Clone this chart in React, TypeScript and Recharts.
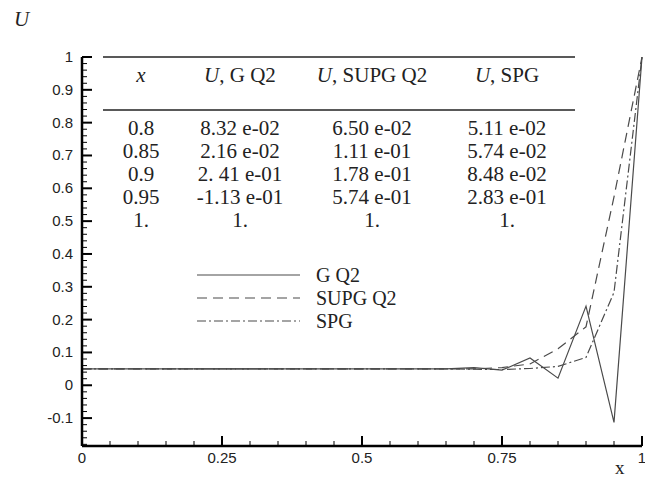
import { LineChart, Line, XAxis, YAxis } from "recharts";

const X_VALUES = [0, 0.05, 0.1, 0.15, 0.2, 0.25, 0.3, 0.35, 0.4, 0.45, 0.5, 0.55, 0.6, 0.65, 0.7, 0.75, 0.8, 0.85, 0.9, 0.95, 1];
const G_Q2 = [0.05, 0.05, 0.05, 0.05, 0.05, 0.05, 0.05, 0.05, 0.05, 0.05, 0.05, 0.05, 0.05, 0.05, 0.054, 0.046, 0.0832, 0.0216, 0.241, -0.113, 1];
const SUPG_Q2 = [0.05, 0.05, 0.05, 0.05, 0.05, 0.05, 0.05, 0.05, 0.05, 0.05, 0.05, 0.05, 0.05, 0.05, 0.05, 0.054, 0.065, 0.111, 0.178, 0.574, 1];
const SPG = [0.05, 0.05, 0.05, 0.05, 0.05, 0.05, 0.05, 0.05, 0.05, 0.05, 0.05, 0.05, 0.05, 0.05, 0.049, 0.048, 0.0511, 0.0574, 0.0848, 0.283, 1];

const X_MAJOR = [0, 0.25, 0.5, 0.75, 1];
const Y_MAJOR = [-0.1, 0, 0.1, 0.2, 0.3, 0.4, 0.5, 0.6, 0.7, 0.8, 0.9, 1];

const TABLE_HEAD = ["x", "G Q2", "SUPG Q2", "SPG"];
const TABLE_X = ["0.8", "0.85", "0.9", "0.95", "1."];
const TABLE_G = ["8.32 e-02", "2.16 e-02", "2. 41 e-01", "-1.13 e-01", "1."];
const TABLE_SUPG = ["6.50 e-02", "1.11 e-01", "1.78 e-01", "5.74 e-01", "1."];
const TABLE_SPG = ["5.11 e-02", "5.74 e-02", "8.48 e-02", "2.83 e-01", "1."];

const SERIES = [
  { key: "g", name: "G Q2", dash: undefined },
  { key: "supg", name: "SUPG Q2", dash: "10 6" },
  { key: "spg", name: "SPG", dash: "9 3 2 3" },
];

const data = X_VALUES.map((x, i) => ({ x, g: G_Q2[i], supg: SUPG_Q2[i], spg: SPG[i] }));

// minor ticks between the labelled ones
function subdivide(majors: number[], parts: number, lo: number) {
  const step = (majors[1] - majors[0]) / parts;
  const out: number[] = [];
  for (let v = majors[0] - step * Math.floor((majors[0] - lo) / step); v <= majors[majors.length - 1] + 1e-9; v += step) {
    out.push(Math.round(v * 1000) / 1000);
  }
  return out;
}

const W = 645;
const H = 481;
const LEFT = 82;
const TOP = 57;
const RIGHT = 642;
const BOTTOM = 446;
const Y_MIN = -0.185;

const X_TICKS = subdivide(X_MAJOR, 5, 0);
const Y_TICKS = subdivide(Y_MAJOR, 5, Y_MIN);

const isOn = (v: number, step: number) => Math.abs(Math.round(v / step) * step - v) < 1e-6;
const fmt = (v: number) => String(Math.round(v * 100) / 100);

const SANS = "'Liberation Sans', Arial, sans-serif";
const SERIF = "'Liberation Serif', 'Times New Roman', serif";
const INK = "#222";
const LINE = "#4a4a4a";

function YTick(props: any) {
  const { y, payload } = props;
  const major = isOn(payload.value, 0.1);
  return (
    <g>
      <line x1={LEFT} x2={LEFT + (major ? 10 : 5)} y1={y} y2={y} stroke="#000" strokeWidth={major ? 2 : 1} />
      {major && (
        <text x={LEFT - 9} y={y} dy={5} textAnchor="end" fontFamily={SANS} fontSize={15} fill={INK}>
          {fmt(payload.value)}
        </text>
      )}
    </g>
  );
}

function XTick(props: any) {
  const { x, payload } = props;
  const major = isOn(payload.value, 0.25);
  return (
    <g>
      <line x1={x} x2={x} y1={BOTTOM} y2={BOTTOM - (major ? 10 : 5)} stroke="#000" strokeWidth={major ? 2 : 1} />
      {major && (
        <text x={x} y={BOTTOM + 17} textAnchor="middle" fontFamily={SANS} fontSize={15} fill={INK}>
          {fmt(payload.value)}
        </text>
      )}
    </g>
  );
}

const COLS = [141, 240, 372, 507];

export default function App() {
  return (
    <div style={{ position: "absolute", left: 0, top: 0, width: W, height: H, background: "#fff" }}>
      <LineChart width={W} height={H} data={data} margin={{ top: TOP, right: W - RIGHT, left: 0, bottom: 0 }}>
        <XAxis
          dataKey="x"
          type="number"
          domain={[0, 1]}
          ticks={X_TICKS}
          interval={0}
          height={H - BOTTOM}
          tickLine={false}
          axisLine={{ stroke: "#000", strokeWidth: 2.5 }}
          tick={<XTick />}
        />
        <YAxis
          type="number"
          domain={[Y_MIN, 1]}
          ticks={Y_TICKS}
          interval={0}
          width={LEFT}
          tickLine={false}
          axisLine={{ stroke: "#000", strokeWidth: 2.5 }}
          tick={<YTick />}
          allowDataOverflow
        />
        {SERIES.map((s) => (
          <Line
            key={s.key}
            dataKey={s.key}
            name={s.name}
            type="linear"
            stroke={LINE}
            strokeWidth={1.2}
            strokeDasharray={s.dash}
            dot={false}
            isAnimationActive={false}
          />
        ))}
      </LineChart>
      <svg width={W} height={H} style={{ position: "absolute", left: 0, top: 0, pointerEvents: "none" }}>
        <text x={14} y={26} fontFamily={SERIF} fontStyle="italic" fontSize={21} fill={INK}>U</text>
        <text x={615} y={474} fontFamily={SERIF} fontSize={19} fill={INK}>x</text>
        <line x1={103} x2={575} y1={57} y2={57} stroke={INK} strokeWidth={1.5} />
        <line x1={103} x2={575} y1={110} y2={110} stroke={INK} strokeWidth={1.5} />
        {TABLE_HEAD.map((h, i) => (
          <text key={h} x={COLS[i]} y={82} textAnchor="middle" fontFamily={SERIF} fontSize={21} fill={INK}>
            {i === 0 ? (
              <tspan fontStyle="italic">x</tspan>
            ) : (
              <>
                <tspan fontStyle="italic">U</tspan>
                <tspan>{", " + h}</tspan>
              </>
            )}
          </text>
        ))}
        {[TABLE_X, TABLE_G, TABLE_SUPG, TABLE_SPG].map((col, c) =>
          col.map((v, r) => (
            <text key={c + "-" + r} x={COLS[c]} y={135 + r * 23} textAnchor="middle" fontFamily={SERIF} fontSize={21} fill={INK}>
              {v}
            </text>
          ))
        )}
        {SERIES.map((s, i) => (
          <g key={s.key}>
            <line x1={197} x2={300} y1={275 + i * 23} y2={275 + i * 23} stroke={LINE} strokeWidth={1.2} strokeDasharray={s.dash} />
            <text x={316} y={282 + i * 23} fontFamily={SERIF} fontSize={20} fill={INK}>
              {s.name}
            </text>
          </g>
        ))}
      </svg>
    </div>
  );
}
